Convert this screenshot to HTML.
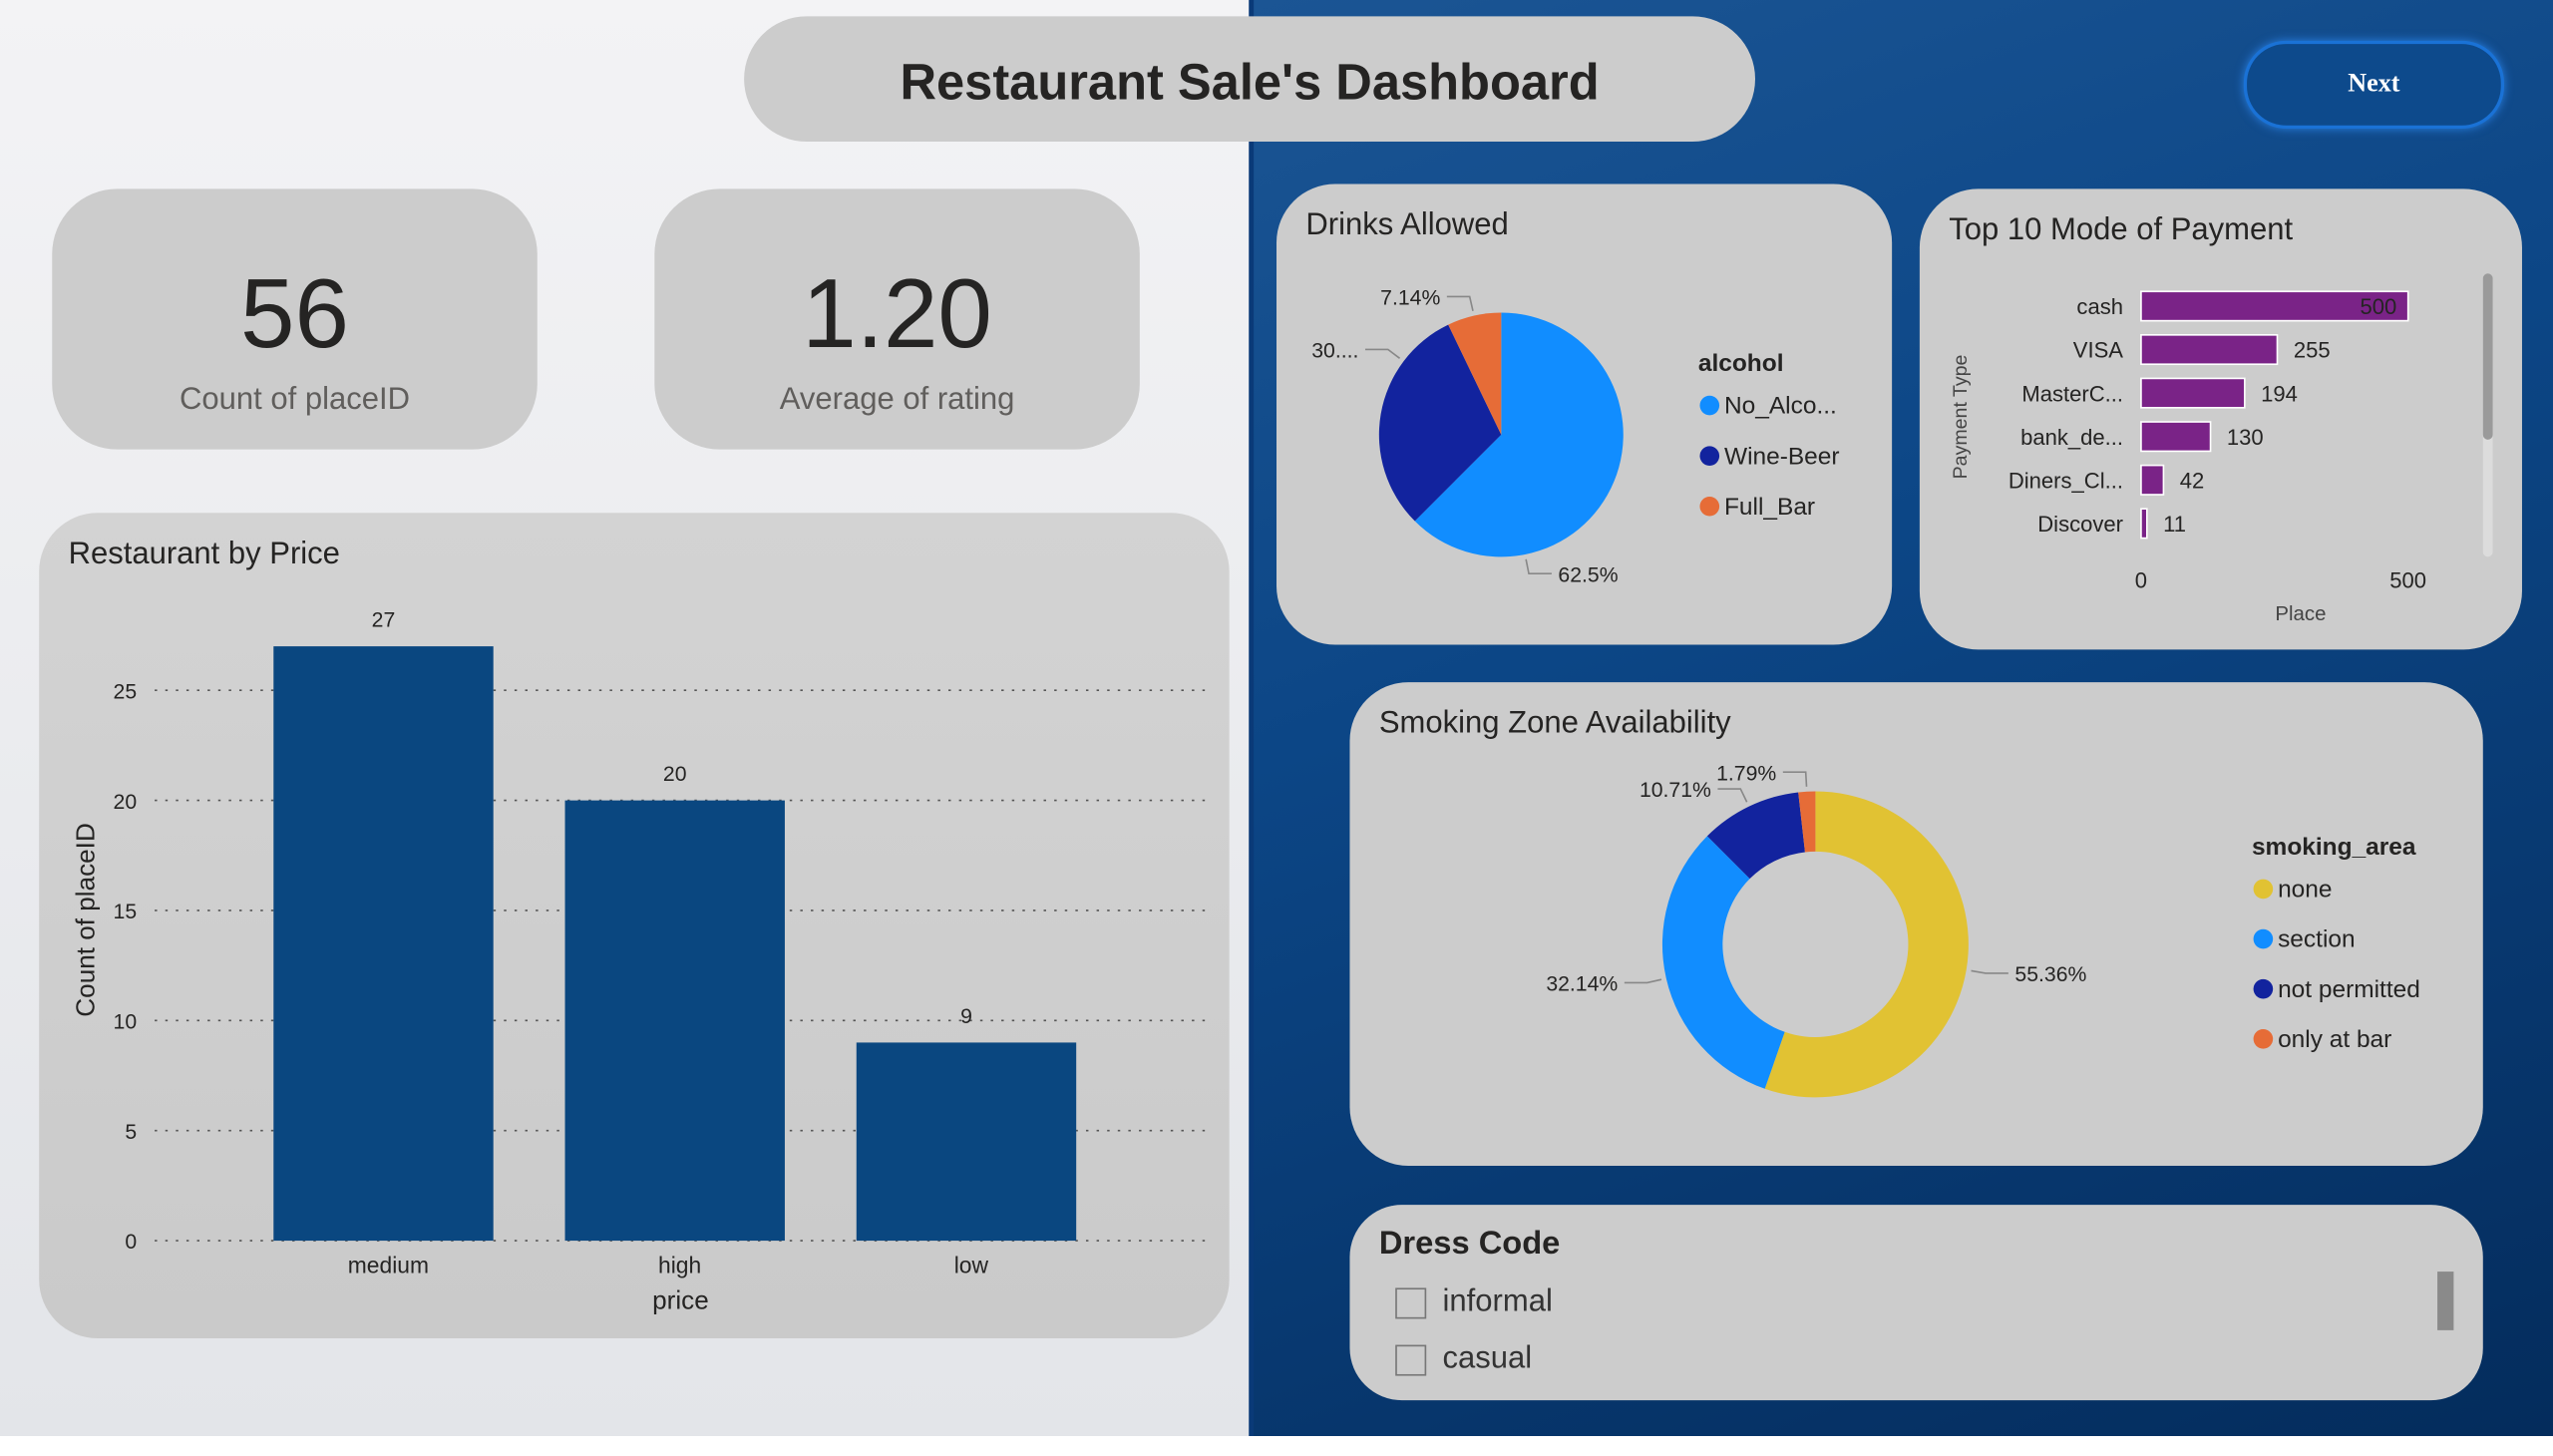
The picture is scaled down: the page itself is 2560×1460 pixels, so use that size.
<!DOCTYPE html>
<html><head><meta charset="utf-8">
<style>
html,body{margin:0;padding:0;width:2560px;height:1460px;background:#fff;overflow:hidden;font-family:"Liberation Sans",sans-serif;}
#stage{position:absolute;left:0;top:0;width:1568px;height:882px;transform:scale(1.63265);transform-origin:0 0;overflow:hidden;}
.abs{position:absolute;}
.card{position:absolute;background:#cccccc;}
.t{position:absolute;white-space:nowrap;color:#252423;}
</style></head><body>
<div id="stage">
  <div class="abs" style="left:0;top:0;width:769px;height:882px;background:linear-gradient(180deg,#f3f3f5,#e3e5e9);"></div>
  <div class="abs" style="left:769px;top:0;width:799px;height:882px;background:linear-gradient(160deg,#1b5594 0%,#0c4686 40%,#042c5c 100%);"></div>
  <div class="abs" style="left:767px;top:0;width:3px;height:882px;background:#0a3a78;"></div>

  <div class="card" style="left:457px;top:10px;width:621px;height:77px;border-radius:40px;">
    <div class="t" style="left:0;width:621px;text-align:center;top:23px;font-size:31px;font-weight:bold;">Restaurant Sale's Dashboard</div>
  </div>
  <div class="abs" style="left:1378px;top:25px;width:156px;height:50px;border:2px solid #1a72d6;border-radius:26px;background:#0d4a8c;box-shadow:0 0 6px #2a7fe0;color:#fff;font-family:'Liberation Serif',serif;font-weight:bold;font-size:16px;text-align:center;line-height:50px;">Next</div>

  <div class="card" style="left:32px;top:116px;width:298px;height:160px;border-radius:40px;">
    <div class="t" style="left:0;width:298px;text-align:center;top:42px;font-size:60px;">56</div>
    <div class="t" style="left:0;width:298px;text-align:center;top:119px;font-size:19px;color:#605e5c;">Count of placeID</div>
  </div>
  <div class="card" style="left:402px;top:116px;width:298px;height:160px;border-radius:40px;">
    <div class="t" style="left:0;width:298px;text-align:center;top:42px;font-size:60px;">1.20</div>
    <div class="t" style="left:0;width:298px;text-align:center;top:119px;font-size:19px;color:#605e5c;">Average of rating</div>
  </div>

  <div class="card" style="left:24px;top:315px;width:731px;height:507px;border-radius:36px;background:linear-gradient(180deg,#d3d3d3,#cacaca);"></div>
  <div class="card" style="left:784px;top:113px;width:378px;height:283px;border-radius:36px;"></div>
  <div class="card" style="left:1179px;top:116px;width:370px;height:283px;border-radius:36px;"></div>
  <div class="card" style="left:829px;top:419px;width:696px;height:297px;border-radius:36px;"></div>
  <div class="card" style="left:829px;top:740px;width:696px;height:120px;border-radius:32px;">
    <div class="t" style="left:18px;top:13px;font-size:20px;font-weight:bold;">Dress Code</div>
    <div class="abs" style="left:28px;top:51px;width:17px;height:17px;border:1.5px solid #777;"></div>
    <div class="t" style="left:57px;top:49px;font-size:19px;color:#333;">informal</div>
    <div class="abs" style="left:28px;top:86px;width:17px;height:17px;border:1.5px solid #777;"></div>
    <div class="t" style="left:57px;top:84px;font-size:19px;color:#333;">casual</div>
    <div class="abs" style="left:668px;top:41px;width:10px;height:36px;background:#8a8a8a;"></div>
  </div>

  <svg id="svg" class="abs" style="left:0;top:0" width="1568" height="882"></svg>
</div>
<script>
// Restaurant by price
const priceCats = ["medium","high","low"];
const priceVals = [27,20,9];
const priceTicks = [0,5,10,15,20,25];
// Drinks
const drinkCats = ["No_Alco...","Wine-Beer","Full_Bar"];
const drinkVals = [62.5,30.36,7.14];
const drinkLabels = ["62.5%","30....","7.14%"];
// Payment
const payCats = ["cash","VISA","MasterC...","bank_de...","Diners_Cl...","Discover"];
const payVals = [500,255,194,130,42,11];
const payTicks = [0,500];
// Smoking
const smokeCats = ["none","section","not permitted","only at bar"];
const smokeVals = [55.36,32.14,10.71,1.79];
const smokeLabels = ["55.36%","32.14%","10.71%","1.79%"];

const NS="http://www.w3.org/2000/svg";
const svg=document.getElementById('svg');
function mk(tag,attrs,parent){const e=document.createElementNS(NS,tag);for(const k in attrs)e.setAttribute(k,attrs[k]);(parent||svg).appendChild(e);return e;}
function txt(x,y,s,size,opts){opts=opts||{};const e=mk('text',{x:x,y:y,'font-size':size,fill:opts.fill||'#252423','text-anchor':opts.anchor||'start','font-family':'Liberation Sans, sans-serif','font-weight':opts.bold?'bold':'normal'});if(opts.rot)e.setAttribute('transform',`rotate(-90 ${x} ${y})`);e.textContent=s;return e;}

// ---- Price bar chart
let t=txt(42,346,"Restaurant by Price",19);

const py=v=>762-v*(762-424)/25;
const bx0=168, bstep=179, bw=135;
priceTicks.forEach(v=>{
  let l=mk('line',{x1:95,x2:740,y1:py(v),y2:py(v),stroke:'#555','stroke-width':1,'stroke-dasharray':'1.5 5'});
  
  let e=txt(84,py(v)+5,String(v),13,{anchor:'end'});
  
});
priceCats.forEach((c,i)=>{
  const x=bx0+i*bstep;
  let r=mk('rect',{x:x,y:py(priceVals[i]),width:bw,height:py(0)-py(priceVals[i]),fill:'#0a4780'});
  
  let v=txt(x+bw/2,py(priceVals[i])-12,String(priceVals[i]),13,{anchor:'middle'});
  
  let l=txt(x+bw/2+3,782,c,14,{anchor:'middle'});
  
});
t=txt(418,804,"price",16,{anchor:'middle'});
t=txt(58,565,"Count of placeID",16,{anchor:'middle',rot:true});

// ---- pie helper
function arcPath(cx,cy,r0,r1,a0,a1){
  const p=(r,a)=>[cx+r*Math.sin(a),cy-r*Math.cos(a)];
  const lg=(a1-a0)>Math.PI?1:0;
  const [x1,y1]=p(r1,a0),[x2,y2]=p(r1,a1);
  if(r0===0) return `M${cx},${cy}L${x1},${y1}A${r1},${r1} 0 ${lg} 1 ${x2},${y2}Z`;
  const [x3,y3]=p(r0,a1),[x4,y4]=p(r0,a0);
  return `M${x1},${y1}A${r1},${r1} 0 ${lg} 1 ${x2},${y2}L${x3},${y3}A${r0},${r0} 0 ${lg} 0 ${x4},${y4}Z`;
}
// labelPos: fraction within slice where leader line attaches (layout only)
function pie(cx,cy,r0,r1,vals,cols,labels,prefix,labelPos){
  const tot=vals.reduce((a,b)=>a+b,0);let a=0;
  vals.forEach((v,i)=>{
    const a1=a+v/tot*2*Math.PI;
    let p=mk('path',{d:arcPath(cx,cy,r0,r1,a,a1),fill:cols[i]});
    
    const f=labelPos?labelPos[i]:0.5;
    const m=a+(a1-a)*f, sx=Math.sin(m), sy=-Math.cos(m);
    const ex=cx+(r1+3)*sx, ey=cy+(r1+3)*sy, kx=cx+(r1+12)*sx, ky=cy+(r1+12)*sy;
    const hx=kx+(sx>=0?14:-14);
    let l=mk('polyline',{points:`${ex},${ey} ${kx},${ky} ${hx},${ky}`,fill:'none',stroke:'#888','stroke-width':1});
    
    let tt=txt(hx+(sx>=0?4:-4),ky+5,labels[i],13,{anchor:sx>=0?'start':'end'});
    
    a=a1;
  });
}
function legend(x,y,title,cats,cols,step,prefix){
  let t=txt(x,y,title,15,{bold:true});
  cats.forEach((c,i)=>{
    let d=mk('circle',{cx:x+7,cy:y+26+i*step-5,r:6,fill:cols[i]});
    
    let e=txt(x+16,y+26+i*step,c,15);
  });
}

// ---- Drinks
t=txt(802,144,"Drinks Allowed",19);
const dcols=['#118dff','#12239e','#e66c37'];
pie(922,267,0,75,drinkVals,dcols,drinkLabels,'drinks',[0.75,0.75,0.5]);
legend(1043,228,"alcohol",drinkCats,dcols,31,'drinks');

// ---- Payment
t=txt(1197,147,"Top 10 Mode of Payment",19);
const px=v=>1315+v*(1479-1315)/500;
payCats.forEach((c,i)=>{
  const y=188+i*26.7;
  let r=mk('rect',{x:px(0),y:y-9,width:Math.max(px(payVals[i])-px(0),2),height:18,fill:'#7a2387',stroke:'#fff','stroke-width':1});
  
  let l=txt(1304,y+5,c,13.5,{anchor:'end'});
  let v;
  if(i===0) v=txt(px(payVals[i])-7,y+5,String(payVals[i]),13.5,{anchor:'end'});
  else v=txt(px(payVals[i])+10,y+5,String(payVals[i]),13.5);
  
});
payTicks.forEach(v=>{let e=txt(px(v),361,String(v),13.5,{anchor:'middle'});});
t=txt(1413,381,"Place",12.5,{anchor:'middle',fill:'#444'});
t=txt(1208,256,"Payment Type",12,{anchor:'middle',rot:true,fill:'#444'});
let sb=mk('rect',{x:1525,y:168,width:6,height:174,rx:3,fill:'#dcdcdc'});
sb=mk('rect',{x:1525,y:168,width:6,height:102,rx:3,fill:'#9a9a9a'});

// ---- Smoking
t=txt(847,450,"Smoking Zone Availability",19);
const scols=['#e1c233','#118dff','#12239e','#e66c37'];
pie(1115,580,57,94,smokeVals,scols,smokeLabels,'smoking');
legend(1383,525,"smoking_area",smokeCats,scols,30.7,'smoking');
</script>
</body></html>
